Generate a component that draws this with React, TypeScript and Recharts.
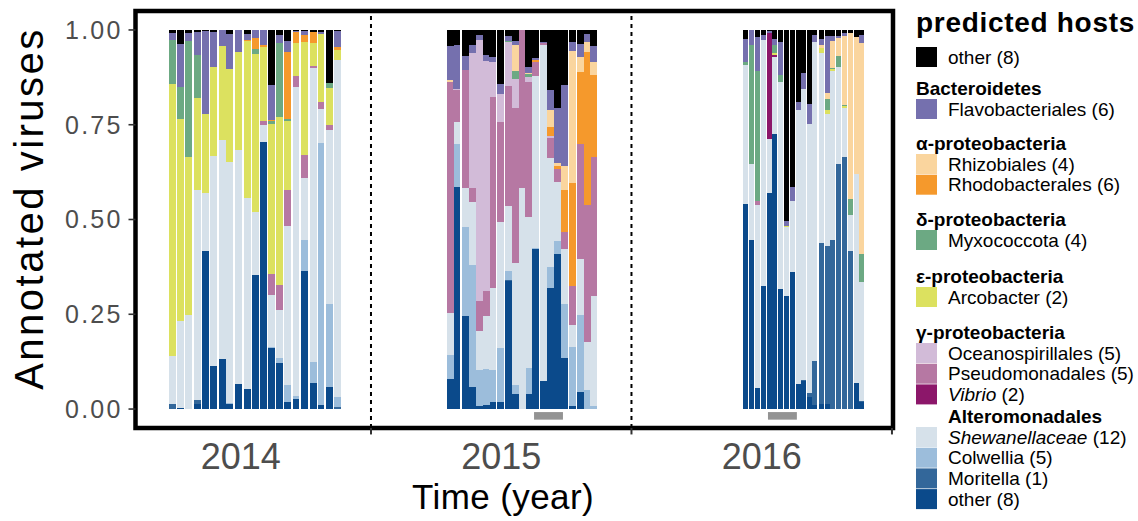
import React from 'react';
import { BarChart, Bar, XAxis, YAxis, ReferenceLine, ReferenceArea } from 'recharts';

const FONT = '"Liberation Sans", Arial, Helvetica, sans-serif';

// sampling time (decimal year) of each bar: 2014 (21), 2015 (21), 2016 (21)
const sampleTime = [
  2014.239, 2014.271, 2014.301, 2014.334, 2014.366, 2014.397, 2014.430, 2014.458, 2014.492, 2014.527, 2014.557,
  2014.588, 2014.619, 2014.649, 2014.680, 2014.713, 2014.745, 2014.779, 2014.809, 2014.841, 2014.872,
  2015.305, 2015.331, 2015.362, 2015.389, 2015.416, 2015.443, 2015.469, 2015.500, 2015.527, 2015.554, 2015.582,
  2015.607, 2015.634, 2015.665, 2015.692, 2015.718, 2015.745, 2015.776, 2015.807, 2015.831, 2015.856,
  2016.439, 2016.462, 2016.485, 2016.508, 2016.531, 2016.550, 2016.573, 2016.596, 2016.619, 2016.642, 2016.661,
  2016.684, 2016.703, 2016.730, 2016.753, 2016.772, 2016.795, 2016.818, 2016.841, 2016.864, 2016.883,
];

// proportions per predicted host (stack order bottom -> top)
const altOther = [
  0, .004, 0, .013, .416, .113, .132, .013, .066, .053, .353, .704, .161, .121, .018, .026, .363, .068, .011, .058, 0,
  .079, .587, .245, .058, .008, .011, .018, .018, .337, .039, 0, .039, .421, .074, .318, .408, .134, .008, .045, 0, 0,
  .542, .447, .055, .324, .571, .726, .316, .297, .361, .066, .074, .032, .011, .013, .013, 0, 0, 0, 0, .068, .018,
];
const moritella = [
  .013, 0, 0, .011, 0, 0, 0, 0, 0, 0, 0, 0, 0, 0, 0, 0, 0, 0, 0, 0, .005,
  0, 0, 0, 0, 0, 0, 0, 0, .003, 0, 0, 0, 0, 0, 0, 0, 0, 0, 0, 0, 0,
  0, 0, 0, 0, 0, 0, 0, 0, 0, 0, .003, .011, .116, .424, .418, .447, .647, .666, .416, 0, .003,
];
const colwellia = [
  0, 0, 0, 0, 0, 0, 0, .003, 0, 0, 0, 0, .003, .013, .045, .008, .084, .055, .692, .218, .026,
  .063, .113, .234, .321, .095, .095, .084, .142, .024, .024, 0, .068, .003, 0, .058, .034, .142, .155, .203, .05, .008,
  0, 0, 0, 0, 0, 0, 0, 0, 0, 0, 0, 0, 0, 0, 0, 0, 0, 0, 0, 0, 0,
];
const shewanella = [
  .127, .228, .247, .555, .153, .555, .579, .635, .618, .504, .168, .044, .137, .126, .421, .816, .163, .776, .089, .461, .889,
  .111, .058, .105, .166, .103, .139, .218, .334, .171, .321, .584, .4, .455, .887, .287, .158, .147, .058, .147, .126, .289,
  .366, .2, .484, .65, .142, .203, .547, .182, .189, .724, .768, .708, .842, .503, .347, .445, .255, .129, .097, .553, .313,
];
const vibrio = [
  0, 0, 0, 0, 0, 0, 0, 0, 0, 0, 0, 0, 0, 0, 0, 0, 0, 0, 0, 0, 0,
  0, 0, 0, 0, 0, 0, 0, 0, 0, 0, 0, 0, 0, 0, 0, 0, 0, 0, 0, 0, 0,
  0, 0, 0, 0, .279, .005, 0, 0, 0, 0, 0, 0, 0, 0, 0, 0, 0, 0, 0, 0, 0,
];
const pseudo = [
  0, 0, 0, 0, 0, 0, 0, 0, 0, 0, 0, .013, .055, .066, .095, .029, .061, .005, .018, .011, 0,
  .611, .084, .311, .037, .079, .066, .503, .263, .316, .41, .416, .355, .037, .005, .053, .034, .045, .103, .303, .361, .368,
  0, 0, .011, 0, 0, 0, 0, 0, 0, 0, 0, 0, 0, 0, 0, 0, 0, 0, 0, 0, 0,
];
const oceano = [
  0, 0, 0, 0, 0, 0, 0, 0, 0, 0, 0, 0, 0, 0, 0, 0, 0, 0, 0, 0, 0,
  0, .003, 0, .358, .689, .608, .092, .074, .118, .076, 0, .013, 0, 0, .003, 0, 0, 0, 0, 0, 0,
  0, 0, 0, 0, 0, 0, 0, 0, 0, 0, 0, 0, 0, 0, 0, 0, 0, 0, 0, 0, 0,
];
const arco = [
  .718, .533, .417, .242, .208, .234, .247, .246, .258, .413, .416, .195, .395, .445, .182, .087, .297, .061, .179, .1, .026,
  0, 0, 0, 0, 0, 0, 0, 0, 0, 0, 0, 0, 0, 0, 0, 0, 0, 0, 0, 0, 0,
  0, 0, 0, 0, 0, .005, 0, .005, 0, 0, 0, 0, 0, .013, .011, .005, 0, .005, 0, 0, 0,
];
const myxo = [
  .116, .084, .307, .113, 0, 0, 0, 0, 0, 0, .013, 0, .008, .195, .003, 0, 0, 0, 0, .013, 0,
  0, 0, 0, 0, 0, 0, 0, 0, .003, .021, 0, .008, 0, 0, 0, 0, 0, 0, 0, 0, 0,
  .008, .313, .342, 0, 0, .021, .018, 0, 0, 0, 0, 0, 0, 0, .029, .003, .029, .003, .042, 0, .074,
];
const rhodo = [
  0, 0, 0, 0, 0, 0, 0, 0, 0, .003, .029, .005, .003, 0, .179, .029, .018, .029, 0, 0, .008,
  0, 0, 0, 0, 0, 0, 0, 0, 0, 0, 0, 0, .005, 0, .024, .008, .111, .271, .192, .405, .216,
  0, 0, 0, 0, 0, 0, 0, 0, 0, 0, 0, 0, 0, 0, 0, 0, 0, 0, 0, 0, 0,
];
const rhizo = [
  0, 0, 0, 0, 0, 0, 0, 0, 0, 0, 0, 0, 0, 0, 0, 0, 0, 0, 0, 0, 0,
  .005, 0, 0, 0, 0, 0, 0, 0, 0, .068, 0, .003, 0, 0, .045, .008, .061, .35, .039, .026, .034,
  0, 0, 0, 0, 0, 0, 0, 0, 0, 0, 0, 0, 0, .008, .016, .071, .047, .182, .437, .361, .558,
];
const flavo = [
  .018, .113, .021, .061, .221, .092, .042, .092, .058, .016, .021, .039, .092, .021, .029, .003, .011, 0, .005, 0, .042,
  .089, .116, .037, .021, .013, .016, .013, .026, .011, .013, 0, .016, .005, .003, .053, .145, .216, .024, .034, .021, .042,
  .061, .04, .089, .013, .005, .016, .087, .011, .037, .021, .042, .053, .018, .016, .15, .013, .005, .008, 0, 0, .021,
];
const otherHost = [
  .008, .038, .008, .005, .002, .006, 0, .011, 0, .011, 0, 0, .146, .013, .028, .002, .003, .006, .006, .139, .004,
  .042, .039, .068, .039, .013, .065, .072, .143, .017, .028, 0, .098, .074, .031, .159, .205, .144, .031, .037, .011, .043,
  .023, 0, .019, .013, .003, .024, .032, .505, .413, .189, .113, .196, .013, .023, .016, .016, .017, .007, .008, .018, .013,
];

const yTicks = [0, 0.25, 0.5, 0.75, 1];
const yearLabels = ['2014', '2015', '2016'];
const yearLabelPos = [2014.5, 2015.5, 2016.5];
const yearBoundaries = [2015, 2016];
const boundaryTicks = [2015, 2016, 2017];
const greyPeriods = [
  { from: 2015.626, to: 2015.737 },
  { from: 2016.524, to: 2016.635 },
];

const series = [
  { key: 'altOther', color: '#0b4a8b', values: altOther },
  { key: 'moritella', color: '#33679a', values: moritella },
  { key: 'colwellia', color: '#9cbddb', values: colwellia },
  { key: 'shewanella', color: '#d6e1ea', values: shewanella },
  { key: 'vibrio', color: '#8c176a', values: vibrio },
  { key: 'pseudo', color: '#b678a3', values: pseudo },
  { key: 'oceano', color: '#d2bbd8', values: oceano },
  { key: 'arco', color: '#dce15f', values: arco },
  { key: 'myxo', color: '#6ca983', values: myxo },
  { key: 'rhodo', color: '#f5992c', values: rhodo },
  { key: 'rhizo', color: '#fad59e', values: rhizo },
  { key: 'flavo', color: '#7570ae', values: flavo },
  { key: 'other', color: '#000000', values: otherHost },
];
const colorOf: Record<string, string> = {};
series.forEach((s) => (colorOf[s.key] = s.color));

const legendGroups = [
  { header: '', items: [{ key: 'other', label: 'other (8)' }] },
  { header: 'Bacteroidetes', items: [{ key: 'flavo', label: 'Flavobacteriales (6)' }] },
  { header: 'α-proteobacteria', items: [{ key: 'rhizo', label: 'Rhizobiales (4)' }, { key: 'rhodo', label: 'Rhodobacterales (6)' }] },
  { header: 'δ-proteobacteria', items: [{ key: 'myxo', label: 'Myxococcota (4)' }] },
  { header: 'ε-proteobacteria', items: [{ key: 'arco', label: 'Arcobacter (2)' }] },
  {
    header: 'γ-proteobacteria',
    items: [
      { key: 'oceano', label: 'Oceanospirillales (5)' },
      { key: 'pseudo', label: 'Pseudomonadales (5)' },
      { key: 'vibrio', italic: 'Vibrio', label: ' (2)' },
    ],
  },
  {
    header: 'Alteromonadales',
    sub: true,
    items: [
      { key: 'shewanella', italic: 'Shewanellaceae', label: ' (12)' },
      { key: 'colwellia', label: 'Colwellia (5)' },
      { key: 'moritella', label: 'Moritella (1)' },
      { key: 'altOther', label: 'other (8)' },
    ],
  },
];

const rows = sampleTime.map((t, i) => {
  const row: any = { t, year: Math.floor(t) };
  series.forEach((s) => (row[s.key] = s.values[i]));
  return row;
});

const X_MIN = 2014.096;
const X_MAX = 2017.004;
const barWidthByYear: Record<number, number> = { 2014: 6.8, 2015: 7, 2016: 5 };

const BarShape = (props: any) => {
  const { x, y, width, height, fill, payload } = props;
  if (!height || height <= 0) return null;
  const w = barWidthByYear[payload.year] ?? 7;
  const cx = x + width / 2;
  return <rect x={cx - w / 2} y={y} width={w} height={height} fill={fill} shapeRendering="crispEdges" />;
};

const Legend = () => {
  const headerBaseline = [0, 95, 150, 226, 283, 339, 423];
  const step = 20.7;
  const out: any[] = [];
  out.push(
    <text key="title" x={916} y={32} fontSize={28} fontWeight="bold" letterSpacing={0.7} fontFamily={FONT} fill="#000">
      predicted hosts
    </text>
  );
  legendGroups.forEach((g, gi) => {
    let top = 47;
    if (g.header) {
      out.push(
        <text key={'h' + gi} x={g.sub ? 948 : 916} y={headerBaseline[gi]} fontSize={19} fontWeight="bold" fontFamily={FONT} fill="#000">
          {g.header}
        </text>
      );
      top = headerBaseline[gi] + 4;
    }
    g.items.forEach((it: any, ii) => {
      const ky = top + ii * step;
      out.push(<rect key={'r' + gi + ii} x={916} y={ky} width={21} height={20} fill={colorOf[it.key]} />);
      out.push(
        <text key={'t' + gi + ii} x={948} y={ky + 16.5} fontSize={19} fontFamily={FONT} fill="#000">
          {it.italic ? <tspan fontStyle="italic">{it.italic}</tspan> : null}
          {it.label}
        </text>
      );
    });
  });
  return (
    <svg width={1138} height={521} style={{ position: 'absolute', left: 0, top: 0, pointerEvents: 'none' }}>
      {out}
    </svg>
  );
};

export default function App() {
  return (
    <div style={{ position: 'absolute', left: 0, top: 0, width: 1138, height: 521, background: '#fff' }}>
      <BarChart
        width={1138}
        height={521}
        data={rows}
        margin={{ top: 11, right: 245, bottom: 0, left: 0 }}
        barSize={7}
        barGap={0}
      >
        <XAxis
          type="number"
          dataKey="t"
          domain={[X_MIN, X_MAX]}
          allowDataOverflow
          ticks={yearLabelPos}
          tickFormatter={(v: number, i: number) => yearLabels[i]}
          tickLine={false}
          axisLine={false}
          tickSize={0}
          tickMargin={15}
          height={93}
          tick={{ fill: '#4d4d4d', fontSize: 36, fontFamily: FONT }}
          interval={0}
          label={() => (
            <text x={503} y={509} textAnchor="middle" fontSize={35} letterSpacing={0.4} fontFamily={FONT} fill="#000">
              Time (year)
            </text>
          )}
        />
        <YAxis
          type="number"
          domain={[-0.05, 1.05]}
          allowDataOverflow
          ticks={yTicks}
          tickFormatter={(v: number) => v.toFixed(2)}
          width={135.5}
          axisLine={false}
          tickSize={7}
          tickMargin={6}
          tickLine={{ stroke: '#333', strokeWidth: 1.6 }}
          tick={{ fill: '#4d4d4d', fontSize: 25, fontFamily: FONT, letterSpacing: 2.2 }}
          interval={0}
          label={() => (
            <text
              x={43}
              y={208.5}
              transform="rotate(-90 43 208.5)"
              textAnchor="middle"
              fontSize={40}
              letterSpacing={2.5}
              fontFamily={FONT}
              fill="#000"
            >
              Annotated viruses
            </text>
          )}
        />
        {series.map((s) => (
          <Bar key={s.key} dataKey={s.key} stackId="hosts" fill={s.color} isAnimationActive={false} shape={BarShape} />
        ))}
        {greyPeriods.map((p, i) => (
          <ReferenceArea key={'g' + i} x1={p.from} x2={p.to} y1={-0.008} y2={-0.028} fill="#939393" fillOpacity={1} stroke="none" />
        ))}
        {yearBoundaries.map((b) => (
          <ReferenceLine key={'d' + b} x={b} stroke="#000" strokeWidth={2} strokeDasharray="4 4" />
        ))}
        {boundaryTicks.map((b) => (
          <ReferenceLine
            key={'tk' + b}
            segment={[{ x: b, y: -0.05 }, { x: b, y: -0.067 }]}
            stroke="#333"
            strokeWidth={2}
            ifOverflow="visible"
          />
        ))}
        <ReferenceArea x1={X_MIN} x2={X_MAX} y1={-0.05} y2={1.05} fill="none" stroke="#000" strokeWidth={4.5} ifOverflow="visible" />
      </BarChart>
      <Legend />
    </div>
  );
}
